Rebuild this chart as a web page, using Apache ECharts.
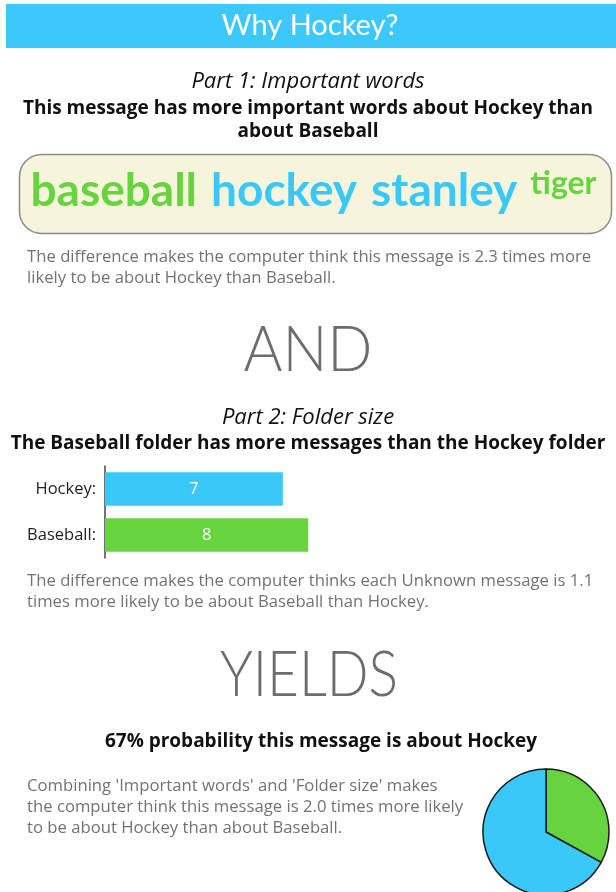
<!DOCTYPE html>
<html>
<head>
<meta charset="utf-8">
<script src="https://cdn.jsdelivr.net/npm/echarts@6/dist/echarts.min.js"></script>
<style>
html,body{margin:0;padding:0;background:#fff;}
#c{width:616px;height:892px;}
</style>
</head>
<body>
<div id="c"></div>
<script>
// ---- data ----
var title = 'Why Hockey?';
var words = ['baseball', 'hockey', 'stanley', 'tiger'];
var wordTopics = ['Baseball', 'Hockey', 'Hockey', 'Baseball'];
var wordSizes = ['big', 'big', 'big', 'small'];
var folderCategories = ['Hockey:', 'Baseball:'];
var folderCounts = [7, 8];
var pieNames = ['Baseball', 'Hockey'];
var pieValues = [33, 67];
var part1Heading = 'Part 1: Important words';
var part1Claim = 'This message has more important words about Hockey than\nabout Baseball';
var part1Note = 'The difference makes the computer think this message is 2.3 times more\nlikely to be about Hockey than Baseball.';
var part2Heading = 'Part 2: Folder size';
var part2Claim = 'The Baseball folder has more messages than the Hockey folder';
var part2Note = 'The difference makes the computer thinks each Unknown message is 1.1\ntimes more likely to be about Baseball than Hockey.';
var resultClaim = '67% probability this message is about Hockey';
var resultNote = "Combining 'Important words' and 'Folder size' makes\nthe computer think this message is 2.0 times more likely\nto be about Hockey than about Baseball.";

var BLUE = '#3ac8f9', GREEN = '#66d43f', GRAY = '#727272';
var LATO = 'Lato, "Open Sans", sans-serif';
var FONT = '"Open Sans", "Noto Sans", sans-serif';
var topicColor = {Hockey: BLUE, Baseball: GREEN};

var chart = echarts.init(document.getElementById('c'), null, {renderer: 'canvas'});

// rich text for the word box
var rich = {};
var parts = [];
words.forEach(function (w, i) {
  var key = 'w' + i;
  var col = topicColor[wordTopics[i]];
  rich[key] = wordSizes[i] === 'big'
    ? {fontSize: 46, fontWeight: 'bold', fontFamily: LATO, fill: col, color: col, padding: [0, 7, 0, 7]}
    : {fontSize: 32, fontWeight: 'bold', fontFamily: LATO, fill: col, color: col, verticalAlign: 'top', padding: [0, 4, 10, 6]};
  parts.push('{' + key + '|' + w + '}');
});

function txt(x, y, text, size, opts) {
  opts = opts || {};
  return {
    type: 'text', x: x, y: y, scaleX: opts.sx || 1,
    style: {
      text: text, fontSize: size, fontFamily: opts.font || FONT,
      fontWeight: opts.weight || 'normal', fontStyle: opts.style || 'normal',
      fill: opts.color || '#111', align: opts.align || 'center', verticalAlign: opts.va || 'middle',
      lineHeight: opts.lh
    }
  };
}

var option = {
  animation: false,
  backgroundColor: '#fff',
  graphic: [
    {type: 'rect', shape: {x: 6, y: 4, width: 610, height: 44}, style: {fill: '#3dc8fb'}},
    txt(310, 26, title, 29, {color: '#fff', font: LATO}),
    txt(308, 82, part1Heading, 22, {style: 'italic'}),
    txt(308, 120, part1Claim, 19, {weight: 'bold', lh: 23}),
    {type: 'rect', shape: {x: 19.5, y: 154.5, width: 592, height: 79, r: 22}, style: {fill: '#f6f5dc', stroke: '#8a8a8a', lineWidth: 1.5}},
    {type: 'text', x: 312, y: 191, style: {text: parts.join(''), rich: rich, align: 'center', verticalAlign: 'middle', fontFamily: LATO}},
    txt(27, 268, part1Note, 16.7, {align: 'left', color: GRAY, lh: 21}),
    txt(308, 350, 'AND', 64, {weight: 300, color: '#6c6c6c', font: LATO, sx: 0.93}),
    txt(308, 418, part2Heading, 22, {style: 'italic'}),
    txt(308, 444, part2Claim, 19, {weight: 'bold'}),
    txt(27, 592, part2Note, 16.7, {align: 'left', color: GRAY, lh: 21}),
    txt(309, 675, 'YIELDS', 64, {weight: 300, color: '#6c6c6c', font: LATO, sx: 0.86}),
    txt(321, 742, resultClaim, 19, {weight: 'bold'}),
    txt(27, 807, resultNote, 16.7, {align: 'left', color: GRAY, lh: 21})
  ],
  grid: {left: 105, top: 466, width: 508, height: 92, containLabel: false},
  xAxis: {type: 'value', min: 0, max: 20, show: false},
  yAxis: {
    type: 'category', data: folderCategories, inverse: true,
    axisLine: {show: true, lineStyle: {color: '#444', width: 1.5}},
    axisTick: {show: false},
    axisLabel: {color: '#222', fontSize: 16.5, fontFamily: FONT, margin: 9}
  },
  series: [
    {
      type: 'bar', barCategoryGap: '27%',
      data: folderCounts.map(function (v, i) {
        return {value: v, itemStyle: {color: i === 0 ? BLUE : GREEN}};
      }),
      label: {show: true, position: 'inside', color: '#fff', fontSize: 16.5, fontFamily: FONT}
    },
    {
      type: 'pie', center: [546, 832], radius: 63, startAngle: 90, clockwise: true,
      label: {show: false}, labelLine: {show: false},
      itemStyle: {borderColor: '#1a1a1a', borderWidth: 1.5},
      data: pieNames.map(function (n, i) {
        return {name: n, value: pieValues[i], itemStyle: {color: topicColor[n]}};
      })
    }
  ]
};
chart.setOption(option);
</script>
</body>
</html>
